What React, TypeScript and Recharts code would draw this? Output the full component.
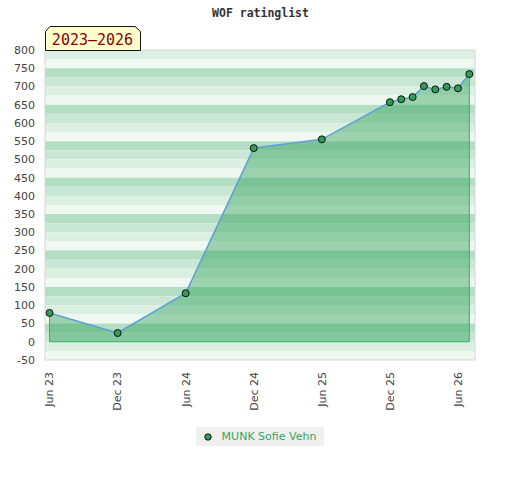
import {
  ComposedChart,
  Area,
  Line,
  XAxis,
  YAxis,
  ReferenceArea,
  Legend,
} from "recharts";

// months counted from Jun 2023
const months = [0, 6, 12, 18, 24, 30, 31, 32, 33, 34, 35, 36, 37];
const ratings = [79, 24, 133, 531, 555, 657, 665, 671, 701, 692, 699, 695, 734];

const xTicks = [0, 6, 12, 18, 24, 30, 36];
const xTickLabels = ["Jun 23", "Dec 23", "Jun 24", "Dec 24", "Jun 25", "Dec 25", "Jun 26"];

const leftTicks = [800, 750, 700, 650, 600, 550, 500, 450, 400, 350, 300, 250, 200, 150, 100, 50, 0, -50];
const rightTicks = [750, 700, 650, 600, 550, 500, 450, 400, 350, 300, 250, 200, 150, 100, 50, 0, -50];
const rightLabels = [750, 650, 550, 450, 350, 250, 150, 50, -50];

const seriesName = "MUNK Sofie Vehn";
const periodLabel = "2023–2026";
const title = "WOF ratinglist";

// background stripes, 25 units each, from the top of the scale down
const bandColors = ["#dcefe3", "#f0f8f2", "#b3dec4", "#cae7d5"];
const bands: { top: number; bottom: number; color: string }[] = [];
for (let v = 800, i = 0; v > -50; v -= 25, i++) {
  bands.push({ top: v, bottom: v - 25, color: bandColors[i % 4] });
}

const data = months.map((m, i) => ({ month: m, rating: ratings[i] }));

// outline of the filled area: down the first point, along zero, up to the last point
const first = months[0];
const last = months[months.length - 1];
const edgeData = [
  { month: first, edge: ratings[0] },
  { month: first, edge: 0 },
  { month: last, edge: 0 },
  { month: last, edge: ratings[ratings.length - 1] },
];

const edgeColor = "#2fb562";
const font = "DejaVu Sans";

function XTick({ x, y, payload }: any) {
  const idx = xTicks.indexOf(payload.value);
  return (
    <text
      x={x}
      y={y}
      dy="0.35em"
      transform={`rotate(-90, ${x}, ${y})`}
      textAnchor="end"
      fill="#444"
      fontSize={11}
      fontFamily={font}
    >
      {xTickLabels[idx]}
    </text>
  );
}

function RightTick({ x, y, payload }: any) {
  const major = rightLabels.includes(payload.value);
  const len = major ? 5 : 3;
  return (
    <g>
      <line x1={x - 7 - len} x2={x - 7} y1={y} y2={y} stroke="#222" />
      {major && (
        <text x={x} y={y} dy="0.35em" fill="#222" fontSize={11} fontFamily={font}>
          {payload.value}
        </text>
      )}
    </g>
  );
}

function renderLegend() {
  return (
    <div style={{ display: "flex", justifyContent: "center" }}>
      <div
        style={{
          display: "flex",
          alignItems: "center",
          height: 19,
          background: "#f0f0f0",
          padding: "0 8px",
          fontFamily: font,
          fontSize: 11,
          color: "#3aa65d",
        }}
      >
        <svg width={8} height={8} style={{ marginRight: 10 }}>
          <circle cx={4} cy={4} r={3.2} fill="#2f9e57" stroke="#111" strokeWidth={1} />
        </svg>
        <span>{seriesName}</span>
      </div>
    </div>
  );
}

export default function App() {
  return (
    <div style={{ position: "absolute", left: 0, top: 0, width: 520, height: 480, background: "#fff", fontFamily: font }}>
      <ComposedChart width={520} height={480} data={data} margin={{ top: 50, right: 0, bottom: 34, left: 0 }}>
        <XAxis
          dataKey="month"
          type="number"
          domain={[-0.4, 37.5]}
          ticks={xTicks}
          interval={0}
          height={67}
          tickLine={false}
          axisLine={false}
          tickSize={6}
          tickMargin={6}
          tick={<XTick />}
          allowDuplicatedCategory
        />
        <YAxis
          type="number"
          domain={[-50, 800]}
          ticks={leftTicks}
          interval={0}
          width={45}
          tickLine={false}
          axisLine={false}
          tickSize={6}
          tickMargin={4}
          tick={{ fill: "#444", fontSize: 11, fontFamily: font }}
        />
        <YAxis
          yAxisId="right"
          orientation="right"
          type="number"
          domain={[-50, 800]}
          ticks={rightTicks}
          interval={0}
          width={45}
          tickLine={false}
          axisLine={false}
          tickSize={0}
          tickMargin={7}
          tick={<RightTick />}
        />
        {bands.map((b) => (
          <ReferenceArea
            key={b.top}
            y1={b.bottom}
            y2={b.top}
            fill={b.color}
            fillOpacity={1}
            stroke="none"
            ifOverflow="visible"
          />
        ))}
        <ReferenceArea y1={-50} y2={800} fill="none" stroke="#d6d6d6" strokeWidth={1} />
        <Area
          type="linear"
          dataKey="rating"
          name={seriesName}
          stroke="none"
          fill="#289d52"
          fillOpacity={0.42}
          dot={false}
          activeDot={false}
          legendType="none"
          isAnimationActive={false}
        />
        <Line
          data={edgeData}
          dataKey="edge"
          type="linear"
          stroke={edgeColor}
          strokeWidth={1}
          dot={false}
          activeDot={false}
          legendType="none"
          isAnimationActive={false}
        />
        <Line
          type="linear"
          dataKey="rating"
          name={seriesName}
          stroke="#5b9fd9"
          strokeWidth={1.5}
          dot={{ r: 3.5, fill: "#2f9e57", stroke: "#111", strokeWidth: 1, fillOpacity: 1 }}
          activeDot={false}
          isAnimationActive={false}
        />
        <Legend verticalAlign="bottom" content={renderLegend} />
      </ComposedChart>
      <svg width={520} height={480} style={{ position: "absolute", left: 0, top: 0, pointerEvents: "none" }}>
        <text x={260.5} y={17} textAnchor="middle" fontFamily="DejaVu Sans Mono" fontWeight="bold" fontSize={11.5} fill="#333">
          {title}
        </text>
        <polygon
          points="45.5,50.5 45.5,31.5 50,26.5 135,26.5 140.5,31.5 140.5,50.5"
          fill="#ffffcc"
          stroke="#111"
          strokeWidth={1}
        />
        <text x={92.5} y={45} textAnchor="middle" fontFamily="DejaVu Sans Mono" fontSize={15} fill="#8b0000">
          {periodLabel}
        </text>
      </svg>
    </div>
  );
}
